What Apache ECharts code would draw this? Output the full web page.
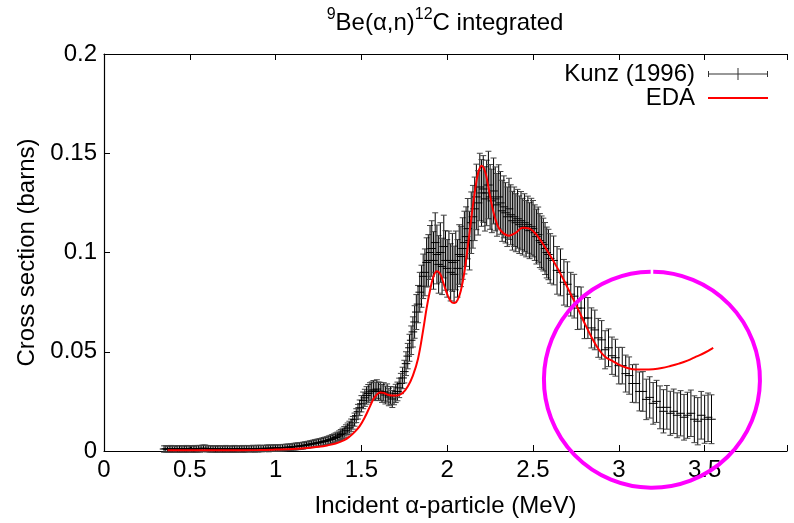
<!DOCTYPE html>
<html><head><meta charset="utf-8">
<script src="https://cdn.jsdelivr.net/npm/echarts@6/dist/echarts.min.js"></script>
<style>html,body{margin:0;padding:0;background:#fff}#c{width:794px;height:523px}</style>
</head><body><div id="c"></div>
<script>
// ---- Kunz (1996) data: incident energy (MeV), cross section (barns), error (barns)
const kunzEnergy = [
0.35,0.36,0.37,0.38,0.39,0.40,0.41,0.42,0.43,0.44,
0.45,0.46,0.47,0.48,0.49,0.50,0.51,0.52,0.53,0.54,
0.55,0.56,0.57,0.58,0.59,0.60,0.61,0.62,0.63,0.64,
0.65,0.66,0.67,0.68,0.69,0.70,0.71,0.72,0.73,0.74,
0.75,0.76,0.77,0.78,0.79,0.80,0.81,0.82,0.83,0.84,
0.85,0.86,0.87,0.88,0.89,0.90,0.91,0.92,0.93,0.94,
0.95,0.96,0.97,0.98,0.99,1.00,
1.01,1.02,1.03,1.04,1.05,1.06,1.07,1.08,1.09,1.10,
1.11,1.12,1.13,1.14,1.15,1.16,1.17,1.18,1.19,1.20,
1.21,1.22,1.23,1.24,1.25,1.26,1.27,1.28,1.29,1.30,
1.31,1.32,1.33,1.34,1.35,1.36,1.37,1.38,1.39,1.40,
1.41,1.42,1.43,1.44,1.45,1.46,1.47,1.48,1.49,1.50,
1.51,1.52,1.53,1.54,1.55,1.56,1.57,1.58,1.59,1.60,
1.61,1.62,1.63,1.64,1.65,1.66,1.67,1.68,1.69,1.70,
1.71,1.72,1.73,1.74,1.75,1.76,1.77,1.78,1.79,1.80,
1.81,1.82,1.83,1.84,1.85,1.86,1.87,1.88,1.89,1.90,
1.91,1.92,1.93,1.94,1.95,1.96,1.97,1.98,1.99,2.00,
2.01,2.02,2.03,2.04,2.05,2.06,2.07,2.08,2.09,2.10,
2.11,2.12,2.13,2.14,2.15,2.16,2.17,2.18,2.19,2.20,
2.21,2.22,2.23,2.24,2.25,2.26,2.27,2.28,2.29,2.30,
2.31,2.32,2.33,2.34,2.35,2.36,2.37,2.38,2.39,2.40,
2.41,2.42,2.43,2.44,2.45,2.46,2.47,2.48,2.49,2.50,
2.51,2.52,2.53,2.54,2.55,2.56,2.57,2.58,2.59,2.60,
2.62,2.64,2.66,2.68,2.70,2.72,2.74,2.76,2.78,2.80,
2.82,2.84,2.86,2.88,2.90,2.92,2.94,2.96,2.98,3.00,
3.02,3.04,3.06,3.08,3.10,3.12,3.14,3.16,3.18,3.20,
3.22,3.24,3.26,3.28,3.30,3.32,3.34,3.36,3.38,3.40,
3.42,3.44,3.46,3.48,3.50,3.52,3.54
];
const kunzSigma = [
.0010,.0011,.0009,.0010,.0011,.0010,.0009,.0011,.0010,.0010,
.0011,.0009,.0010,.0011,.0010,.0011,.0010,.0009,.0011,.0010,
.0012,.0011,.0013,.0014,.0013,.0012,.0011,.0010,.0011,.0010,
.0009,.0010,.0011,.0010,.0009,.0010,.0011,.0010,.0010,.0009,
.0010,.0011,.0010,.0010,.0011,.0010,.0011,.0010,.0011,.0012,
.0011,.0011,.0012,.0011,.0012,.0012,.0013,.0012,.0013,.0013,
.0014,.0013,.0014,.0014,.0015,.0015,
.0015,.0016,.0016,.0017,.0017,.0018,.0019,.0019,.0020,.0021,
.0022,.0023,.0024,.0025,.0026,.0027,.0029,.0030,.0032,.0034,
.0035,.0037,.0039,.0040,.0042,.0044,.0046,.0048,.0050,.0052,
.0055,.0058,.0061,.0064,.0068,.0072,.0077,.0083,.0089,.0096,
.0104,.0112,.0120,.0130,.0142,.0158,.0178,.0198,.0218,.0238,
.0255,.0268,.0280,.0290,.0298,.0302,.0308,.0300,.0312,.0302,
.0300,.0290,.0298,.0282,.0292,.0272,.0280,.0262,.0278,.0290,
.0300,.0318,.0340,.0368,.0400,.0440,.0478,.0520,.0558,.0600,
.0650,.0700,.0740,.0800,.0830,.0880,.0900,.0950,.0960,.1000,
.1020,.0960,.1050,.0990,.0940,.1000,.0930,.1030,.0960,.0920,
.0960,.0900,.0950,.0890,.0960,.0920,.0990,.0980,.1020,.1050,
.1080,.1120,.1060,.1150,.1180,.1220,.1280,.1250,.1330,.1300,
.1320,.1270,.1300,.1340,.1280,.1260,.1310,.1270,.1240,.1280,
.1250,.1210,.1230,.1200,.1180,.1220,.1190,.1160,.1180,.1150,
.1170,.1140,.1160,.1130,.1150,.1120,.1140,.1110,.1130,.1120,
.1100,.1080,.1090,.1060,.1050,.1040,.1020,.1000,.0990,.0970,
.0960,.0910,.0900,.0850,.0840,.0790,.0780,.0720,.0720,.0670,
.0670,.0620,.0610,.0570,.0560,.0510,.0520,.0480,.0470,.0430,
.0430,.0390,.0380,.0340,.0340,.0300,.0300,.0260,.0270,.0240,
.0250,.0220,.0200,.0220,.0190,.0200,.0180,.0190,.0170,.0180,
.0190,.0160,.0150,.0180,.0160,.0170,.0160
];
const kunzError = [
.0016,.0016,.0015,.0016,.0017,.0016,.0015,.0016,.0016,.0017,
.0016,.0015,.0016,.0017,.0016,.0016,.0015,.0016,.0017,.0016,
.0016,.0017,.0016,.0016,.0017,.0016,.0015,.0016,.0016,.0015,
.0016,.0017,.0016,.0015,.0016,.0016,.0017,.0016,.0015,.0016,
.0016,.0017,.0016,.0016,.0015,.0016,.0017,.0016,.0016,.0016,
.0015,.0016,.0017,.0016,.0016,.0017,.0016,.0016,.0015,.0016,
.0016,.0017,.0016,.0016,.0016,.0016,
.0016,.0016,.0016,.0016,.0016,.0016,.0016,.0016,.0016,.0016,
.0017,.0017,.0017,.0017,.0017,.0017,.0017,.0017,.0017,.0017,
.0018,.0018,.0018,.0019,.0019,.0019,.0019,.0020,.0020,.0020,
.0021,.0021,.0022,.0022,.0023,.0023,.0024,.0025,.0026,.0027,
.0028,.0029,.0030,.0031,.0032,.0033,.0035,.0037,.0039,.0041,
.0042,.0043,.0044,.0045,.0046,.0046,.0047,.0046,.0047,.0046,
.0046,.0045,.0046,.0045,.0046,.0044,.0045,.0043,.0045,.0046,
.0047,.0049,.0051,.0054,.0057,.0060,.0064,.0068,.0072,.0076,
.0082,.0088,.0094,.0100,.0106,.0112,.0118,.0124,.0130,.0136,
.0140,.0145,.0150,.0148,.0145,.0150,.0142,.0158,.0150,.0145,
.0148,.0144,.0146,.0142,.0148,.0145,.0150,.0152,.0155,.0158,
.0150,.0152,.0148,.0155,.0158,.0160,.0165,.0162,.0170,.0168,
.0168,.0162,.0165,.0170,.0163,.0160,.0166,.0161,.0158,.0162,
.0158,.0154,.0156,.0152,.0150,.0154,.0151,.0148,.0150,.0146,
.0148,.0145,.0147,.0143,.0146,.0142,.0144,.0141,.0143,.0142,
.0140,.0138,.0139,.0136,.0134,.0133,.0131,.0128,.0127,.0125,
.0123,.0120,.0118,.0115,.0113,.0110,.0110,.0108,.0106,.0104,
.0103,.0101,.0100,.0098,.0097,.0096,.0095,.0094,.0093,.0092,
.0092,.0093,.0094,.0095,.0097,.0098,.0100,.0102,.0104,.0105,
.0106,.0108,.0109,.0110,.0111,.0112,.0113,.0114,.0115,.0116,
.0117,.0118,.0119,.0120,.0121,.0122,.0123
];
const kunzEnergyHalfWidth = 0.025; // horizontal error bar (MeV)

// ---- EDA calculation
const edaEnergy = [
0.37,0.50,0.70,0.90,1.00,1.10,1.20,1.25,1.30,1.35,
1.40,1.43,1.46,1.49,1.52,1.55,1.57,1.59,1.61,1.63,
1.65,1.68,1.71,1.74,1.77,1.80,1.83,1.86,1.88,1.90,
1.92,1.94,1.96,1.98,2.00,2.02,2.04,2.06,2.08,2.10,
2.12,2.14,2.16,2.18,2.20,2.22,2.24,2.26,2.28,2.30,
2.33,2.36,2.40,2.44,2.48,2.52,2.56,2.60,2.64,2.68,
2.72,2.76,2.80,2.84,2.88,2.92,2.96,3.00,3.05,3.10,
3.15,3.20,3.25,3.30,3.35,3.40,3.45,3.50,3.55
];
const edaSigma = [
.0004,.0004,.0004,.0005,.0007,.0010,.0016,.0021,.0028,.0038,
.0055,.0072,.0095,.0125,.0170,.0225,.0262,.0285,.0295,.0293,
.0285,.0279,.0280,.0292,.0325,.0380,.0465,.0610,.0720,.0810,
.0880,.0905,.0890,.0840,.0790,.0755,.0745,.0760,.0810,.0900,
.1030,.1170,.1300,.1400,.1437,.1410,.1330,.1240,.1170,.1125,
.1095,.1085,.1100,.1125,.1120,.1090,.1040,.0985,.0925,.0860,
.0790,.0720,.0645,.0575,.0515,.0475,.0455,.0435,.0418,.0410,
.0410,.0412,.0418,.0428,.0440,.0455,.0475,.0495,.0520
];

// ---- axis ticks
const xTickStep = 0.5, xMin = 0, xMax = 3.98;
const yTickStep = 0.05, yMin = 0, yMax = 0.2;
// highlighted region (data coordinates of circle centre)
const highlightCentre = [3.193, 0.0359];

const FONT = '"Liberation Sans", Arial, Helvetica, sans-serif';
const kunzData = kunzEnergy.map((e, i) => [e, kunzSigma[i], kunzError[i]]);
const edaData = edaEnergy.map((e, i) => [e, edaSigma[i]]);

const chart = echarts.init(document.getElementById('c'), null, {renderer: 'canvas'});

function errRender(params, api) {
  const x = api.value(0), y = api.value(1), e = api.value(2);
  const t = api.coord([x, y + e]), b = api.coord([x, y - e]);
  const l = api.coord([x - kunzEnergyHalfWidth, y]), r = api.coord([x + kunzEnergyHalfWidth, y]);
  const cap = 3;
  const st = {stroke: '#000', lineWidth: 1};
  const cs = {stroke: '#444', lineWidth: 1};
  return {type: 'group', children: [
    {type: 'line', shape: {x1: t[0], y1: t[1], x2: b[0], y2: b[1]}, style: st},
    {type: 'line', shape: {x1: t[0] - cap, y1: t[1], x2: t[0] + cap, y2: t[1]}, style: cs},
    {type: 'line', shape: {x1: b[0] - cap, y1: b[1], x2: b[0] + cap, y2: b[1]}, style: cs},
    {type: 'line', shape: {x1: l[0], y1: l[1], x2: r[0], y2: r[1]}, style: st}
  ]};
}

const axisText = {fontFamily: FONT, fontSize: 24, color: '#000'};

chart.setOption({
  animation: false,
  backgroundColor: '#fff',
  grid: {left: 104, right: 7, top: 54, bottom: 68},
  legend: {
    orient: 'vertical', right: 21, top: 57, itemWidth: 60, itemHeight: 12, itemGap: 0,
    align: 'right', textStyle: {fontFamily: FONT, fontSize: 24, color: '#000', padding: [0, 8, 0, 0]},
    data: [
      {name: 'Kunz (1996)', icon: 'path://M0,5.5h60v1h-60z M0,3h1v6h-1z M59,3h1v6h-1z M29.5,0h1v12h-1z', itemStyle: {color: '#333'}},
      {name: 'EDA', icon: 'path://M0,0h60v2h-60z', itemStyle: {color: '#ff0000'}}
    ]
  },
  xAxis: [{
    type: 'value', min: xMin, max: xMax, interval: xTickStep, position: 'bottom',
    axisLine: {show: true, onZero: false, lineStyle: {color: '#000', width: 1.2}},
    axisTick: {show: true, inside: true, length: 6, lineStyle: {color: '#000'}},
    axisLabel: {...axisText, margin: 7,
      formatter: v => Math.abs(v / xTickStep - Math.round(v / xTickStep)) < 1e-6 ? String(+v.toFixed(1)) : ''},
    splitLine: {show: false},
    name: 'Incident α-particle (MeV)', nameLocation: 'middle', nameGap: 43, nameTextStyle: axisText
  }, {
    type: 'value', min: xMin, max: xMax, interval: xTickStep, position: 'top',
    axisLine: {show: true, onZero: false, lineStyle: {color: '#000', width: 1.2}},
    axisTick: {show: true, inside: true, length: 6, lineStyle: {color: '#000'}},
    axisLabel: {show: false}, splitLine: {show: false}
  }],
  yAxis: {
    type: 'value', min: yMin, max: yMax, interval: yTickStep,
    axisLine: {show: true, onZero: false, lineStyle: {color: '#000', width: 1.2}},
    axisTick: {show: true, inside: true, length: 6, lineStyle: {color: '#000'}},
    axisLabel: {...axisText, margin: 7, formatter: v => String(+v.toFixed(2))},
    splitLine: {show: false},
    name: 'Cross section (barns)', nameLocation: 'middle', nameGap: 58, nameRotate: 90, nameTextStyle: axisText
  },
  series: [{
    name: 'Kunz (1996)', type: 'custom', renderItem: errRender, data: kunzData,
    encode: {x: 0, y: 1}, itemStyle: {color: '#333'}, clip: false, z: 2
  }, {
    name: 'EDA', type: 'line', data: edaData, showSymbol: false, smooth: 0.4,
    lineStyle: {color: '#ff0000', width: 2}, itemStyle: {color: '#ff0000'}, z: 3
  }]
});

const cp = chart.convertToPixel({xAxisIndex: 0, yAxisIndex: 0}, highlightCentre);
chart.setOption({
  graphic: [{
    type: 'text', x: 445, y: 23, z: 10,
    style: {
      text: '{sup|9}Be(α,n){sup|12}C integrated', align: 'center', verticalAlign: 'middle',
      fontFamily: FONT, fontSize: 24, fill: '#000', lineHeight: 32,
      rich: {sup: {fontFamily: FONT, fontSize: 16, verticalAlign: 'top', lineHeight: 16, fill: '#000'}}
    }
  }, {
    type: 'arc', z: 20,
    shape: {cx: cp[0], cy: cp[1], r: 108, startAngle: -Math.PI / 2 + 0.012, endAngle: 1.5 * Math.PI - 0.012, clockwise: true},
    style: {stroke: '#ff00ff', lineWidth: 4, fill: null}
  }]
});
</script></body></html>
